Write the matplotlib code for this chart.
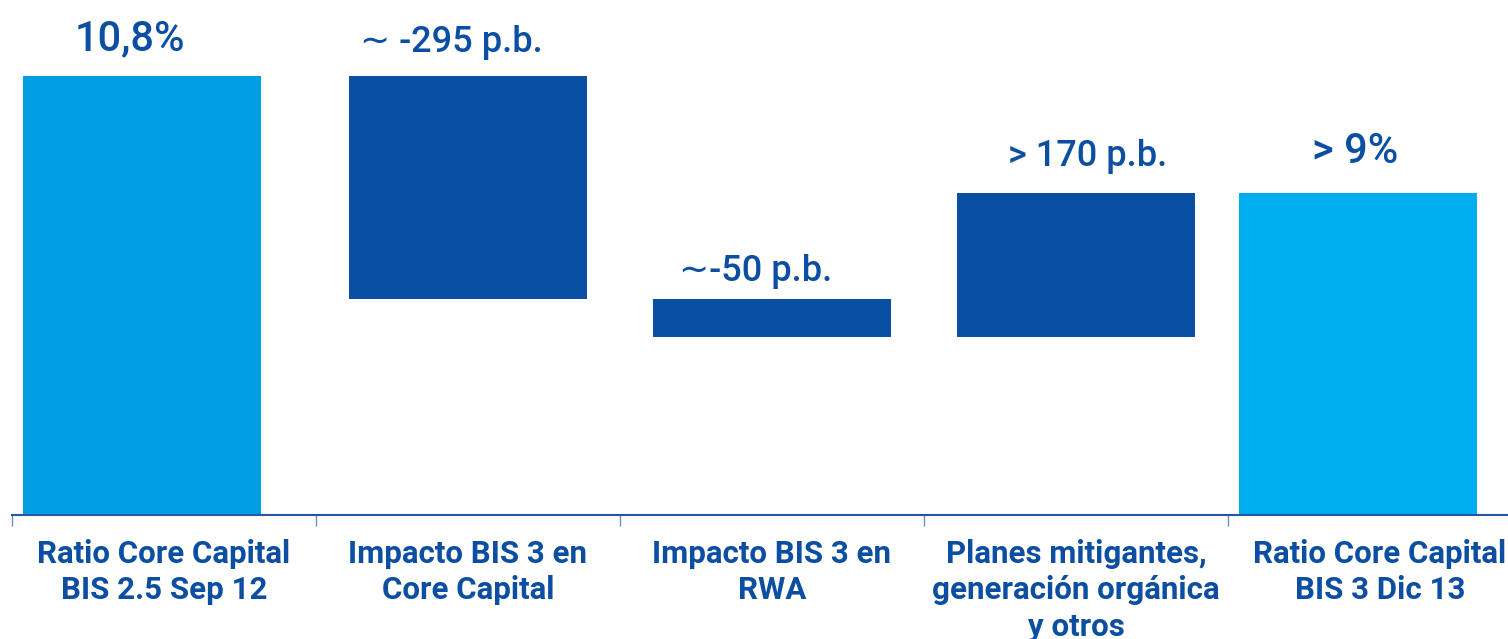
import matplotlib
matplotlib.use("Agg")
import matplotlib.pyplot as plt
import numpy as np

plt.rcParams['font.family'] = ['Roboto', 'DejaVu Sans']

# Core Capital ratio bridge (%), axis starts at 5%
categories = ["Ratio Core Capital\nBIS 2.5 Sep 12",
              "Impacto BIS 3 en\nCore Capital",
              "Impacto BIS 3 en\nRWA",
              "Planes mitigantes,\ngeneración orgánica\ny otros",
              "Ratio Core Capital\nBIS 3 Dic 13"]
start_ratio = 10.8
deltas = [-2.95, -0.50, 1.90]
value_labels = ["10,8%", "∼ -295 p.b.", "∼-50 p.b.", "> 170 p.b.", "> 9%"]
axis_floor = 5.0

end_ratio = start_ratio + sum(deltas)

# build floating segments
bottoms, heights = [axis_floor], [start_ratio - axis_floor]
level = start_ratio
for d in deltas:
    new = level + d
    bottoms.append(min(level, new))
    heights.append(abs(d))
    level = new
bottoms.append(axis_floor)
heights.append(end_ratio - axis_floor)
tops = [b + h for b, h in zip(bottoms, heights)]

light1 = "#009FE3"
light2 = "#00AEEF"
dark = "#0A50A2"
text_c = "#0B4EA2"
colors = [light1, dark, dark, dark, light2]

W, H = 1508, 639
fig = plt.figure(figsize=(W / 100, H / 100), dpi=100)
slot = 304.0
left_px, base_px = 12, 515
ax = fig.add_axes([left_px / W, (H - base_px) / H, (W - left_px) / W, base_px / H])
px_per_unit = 75.7
ax.set_xlim(-0.5, -0.5 + (W - left_px) / slot)
ax.set_ylim(axis_floor, axis_floor + base_px / px_per_unit)

x = np.arange(len(categories), dtype=float)
shift = np.array([-0.072, 0, 0, 0, -0.072])
xb = x + shift
ax.bar(xb, heights, bottom=bottoms, width=238 / slot, color=colors, linewidth=0)

# label offsets in pixels, sizes in points
label_dx = [-12, -17, -16, 12, -3]
label_dy = [26, 24, 18, 27, 30]
label_fs = [30, 26, 26, 26, 30]
for xi, t, s, dx, dy, fs in zip(xb, tops, value_labels, label_dx, label_dy, label_fs):
    ax.annotate(s, (xi, t), xytext=(dx * 0.72, dy * 0.72), textcoords="offset points",
                ha="center", va="baseline", fontsize=fs,
                fontweight="medium", color=text_c)

for sp in ["top", "right", "left"]:
    ax.spines[sp].set_visible(False)
ax.spines["bottom"].set_color("#2757A0")
ax.spines["bottom"].set_linewidth(1.5)
ax.set_yticks([])

ax.set_xticks(x)
ax.set_xticklabels(categories, fontsize=22.5, fontweight="bold", color=text_c, linespacing=1.27)
ax.tick_params(axis="x", which="major", length=0, pad=17)
ax.set_xticks(np.arange(-0.5, 4.0, 1.0), minor=True)
ax.tick_params(axis="x", which="minor", length=8, width=1, color="#6F8DB8")

fig.savefig("out.png", dpi=100)
